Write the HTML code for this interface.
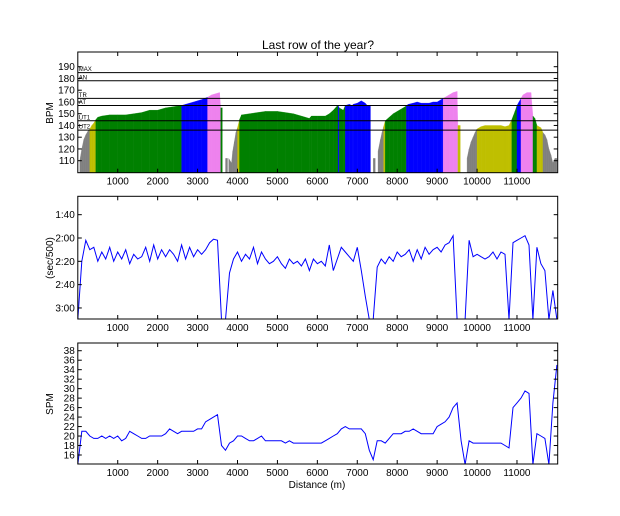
<!DOCTYPE html>
<html><head><meta charset="utf-8">
<style>
html,body{margin:0;padding:0;background:#fff;}
svg{display:block;font-family:"Liberation Sans",sans-serif;}
</style></head>
<body>
<svg id="chart" width="620" height="516" viewBox="0 0 620 516" xmlns="http://www.w3.org/2000/svg">
<text x="318" y="49" font-size="12" text-anchor="middle">Last row of the year?</text>
<g id="hrG"></g>
<g id="paceG"></g>
<g id="spmG"></g>
<text x="317" y="488" font-size="10" text-anchor="middle">Distance (m)</text>
<text transform="translate(53,113) rotate(-90)" font-size="10" text-anchor="middle">BPM</text>
<text transform="translate(53,258) rotate(-90)" font-size="10" text-anchor="middle">(sec/500)</text>
<text transform="translate(53,404) rotate(-90)" font-size="10" text-anchor="middle">SPM</text>
</svg>
<script>
const distStep = 100;
const xTicks = [1000,2000,3000,4000,5000,6000,7000,8000,9000,10000,11000];
const hrDist = [0,50,100,150,200,250,300,350,400,450,500,600,800,1000,1200,1400,1600,1800,2000,2200,2400,2600,2700,2800,2900,3000,3100,3250,3350,3450,3550,3580,3620,3700,3750,3780,3850,3880,3920,3960,4000,4050,4100,4300,4500,4700,5000,5200,5400,5600,5800,5850,6000,6200,6300,6400,6480,6520,6550,6650,6700,6800,6870,6900,7000,7100,7200,7250,7330,7400,7450,7520,7580,7620,7660,7700,7800,7900,8000,8100,8200,8230,8280,8400,8500,8600,8700,8800,8900,9000,9100,9150,9200,9300,9400,9500,9520,9580,9650,9750,9800,9850,9900,9950,10000,10100,10200,10400,10600,10700,10800,10870,10950,11000,11050,11100,11150,11250,11350,11400,11450,11500,11600,11650,11700,11750,11800,11850,11900,11950,12000];
const hrValues = [100,110,120,128,132,135,137,140,142,145,147,148,149,149,149,150,151,153,153,155,156,157,158,159,160,161,162,164,166,167,168,155,100,112,100,112,108,118,126,134,138,145,149,150,151,152,152,151,150,148,146,148,148,148,150,153,156,157,155,153,157,158,157,158,159,161,159,157,100,112,100,118,128,134,139,144,147,150,152,154,156,157,158,159,160,159,159,159,160,160,162,163,164,166,168,169,140,100,100,112,120,126,130,134,137,139,140,140,140,139,140,145,152,157,160,163,166,168,168,148,146,140,138,134,132,128,120,115,108,112,100];
const hrTicks = [110,120,130,140,150,160,170,180,190];
const zoneNames = ["MAX","AN","TR","AT","UT1","UT2"];
const zoneValues = [185,178,163,157,144,136];
const paceValues = [190,140,122,130,128,140,132,138,128,140,132,138,130,142,134,138,136,128,140,126,138,130,136,130,134,140,126,138,128,136,130,134,130,124,121,122,190,190,150,138,132,140,134,138,128,142,132,138,142,140,136,142,146,138,142,140,144,138,148,138,142,140,144,126,148,138,128,132,136,140,128,148,170,190,190,145,138,142,136,140,132,136,134,130,140,130,138,128,134,130,128,132,126,124,118,190,190,190,122,136,134,136,138,136,132,138,132,134,190,124,122,120,118,126,190,128,142,148,190,165,190];
const paceTicks = [100,120,140,160,180];
const paceTickLabels = ["1:40","2:00","2:20","2:40","3:00"];
const spmValues = [14,21,21,20,19.5,19.5,20,19.5,20,19.5,20,19,19.5,21,20.5,20,19.5,19.5,20,20,20,20,20.5,21.5,21,20.5,21,21,21,21,21.5,21.5,23,23.5,24,24.5,18,17,18.5,19,20,20,19.5,19,19,19.5,20,19,19,19,19,19,18.5,19,18.5,18.5,18.5,18.5,18.5,18.5,18.5,18.5,19,19.5,20,20.5,21.5,22,21.5,21.5,21.5,21.5,20.5,17,15,19,19,18.5,19.5,20.5,20.5,20.5,21,21,21.5,21,20.5,20.5,20.5,20.5,22,22.5,23,24,26,27,19,14,19,18.5,18.5,18.5,18.5,18.5,18.5,18.5,18.5,18,17.5,26,27,28,29.5,29,14,20.5,20,19.5,14,27,35];
const spmTicks = [16,18,20,22,24,26,28,30,32,34,36,38];

const NS="http://www.w3.org/2000/svg";
const X0=77.8, X1=557.7, XMAX=12020;
function sx(d){return X0+(d/XMAX)*(X1-X0);}
function mk(tag,attrs,parent){const e=document.createElementNS(NS,tag);for(const k in attrs)e.setAttribute(k,attrs[k]);parent.appendChild(e);return e;}
function zoneColor(v){if(v>=163)return"#ee82ee";if(v>=157)return"#0000ff";if(v>=144)return"#008000";if(v>=136)return"#bfbf00";return"#808080";}

function axes(g,top,bot,sy,ticks,labels,name){
  const fr=mk("rect",{x:X0,y:top,width:X1-X0,height:bot-top,fill:"none",stroke:"#000","stroke-width":1},g);
  
  
  xTicks.forEach(t=>{
    const x=sx(t);
    mk("line",{x1:x,x2:x,y1:bot,y2:bot-4,stroke:"#000"},g);
    mk("line",{x1:x,x2:x,y1:top,y2:top+4,stroke:"#000"},g);
    const tx=mk("text",{x:x,y:bot+12,"font-size":10,"text-anchor":"middle"},g);
    tx.textContent=t;
    
    
  });
  ticks.forEach((t,i)=>{
    const y=sy(t);
    mk("line",{x1:X0,x2:X0+4,y1:y,y2:y,stroke:"#000"},g);
    mk("line",{x1:X1,x2:X1-4,y1:y,y2:y,stroke:"#000"},g);
    const tx=mk("text",{x:X0-3,y:y+3.5,"font-size":10,"text-anchor":"end"},g);
    tx.textContent=labels?labels[i]:t;
    
    
  });
}

// HR panel
(function(){
  const g=document.getElementById("hrG");
  const top=52,bot=172.7;
  const sy=v=>160.7-(v-110)*1.175;
  const base=sy(100);
  for(let i=0;i<hrValues.length-1;i++){
    const v=hrValues[i],v2=hrValues[i+1];
    if(v<=100)continue;
    const xa=sx(hrDist[i]),xb=sx(hrDist[i+1]);
    const yb=v2>100?sy(v2):sy(v);
    const p=mk("polygon",{points:`${xa},${base} ${xa},${sy(v)} ${xb},${yb} ${xb},${base}`,fill:zoneColor(v),stroke:zoneColor(v),"stroke-width":0.3},g);
    
    
  }
  zoneValues.forEach((z,i)=>{
    const y=sy(z);
    const l=mk("line",{x1:X0,x2:X1,y1:y,y2:y,stroke:"#000","stroke-width":1},g);
    
    
    const t=mk("text",{x:X0+1,y:y-1.5,"font-size":6},g);
    t.textContent=zoneNames[i];
    
    
  });
  axes(g,top,bot,sy,hrTicks,null,"hr");
})();

function linePanel(gid,vals,top,bot,sy,ticks,labels,name){
  const g=document.getElementById(gid);
  const cp=mk("clipPath",{id:gid+"clip"},g);
  mk("rect",{x:X0,y:top,width:X1-X0,height:bot-top},cp);
  const pts=vals.map((v,i)=>sx(i*distStep).toFixed(1)+","+sy(v).toFixed(1)).join(" ");
  const pl=mk("polyline",{points:pts,fill:"none",stroke:"#0000ff","stroke-width":1,"clip-path":`url(#${gid}clip)`},g);
  
  
  axes(g,top,bot,sy,ticks,labels,name);
}
linePanel("paceG",paceValues,196.3,319,v=>238+(v-120)*1.166,paceTicks,paceTickLabels,"pace");
linePanel("spmG",spmValues,343,464,v=>455-(v-16)*4.74,spmTicks,null,"spm");
</script>
</body></html>
